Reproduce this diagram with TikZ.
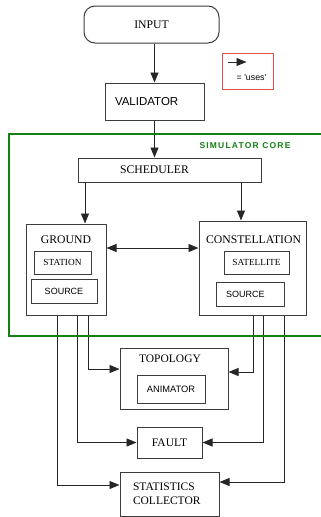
\documentclass[tikz,border=0pt]{standalone}
\usepackage{fontspec}
\setmainfont{Liberation Serif}
\setsansfont{Liberation Sans}
\newfontfamily\corefont[LetterSpace=14]{Liberation Sans}
\usetikzlibrary{arrows.meta}
\definecolor{coregreen}{RGB}{20,128,20}
\definecolor{legendred}{RGB}{228,80,80}
\definecolor{boxgray}{RGB}{60,60,60}

\begin{document}
\begin{tikzpicture}
[x=1pt,y=-1pt,
 box/.style={draw=boxgray,line width=1pt,inner sep=0pt,font=\fontsize{11.7}{14}\selectfont},
 subbox/.style={box,font=\fontsize{9.3}{11}\selectfont},
 sansbox/.style={box,font=\sffamily\fontsize{9}{11}\selectfont},
 title/.style={inner sep=0pt,font=\fontsize{11.7}{14}\selectfont},
 uses/.style={-{Triangle[length=10pt,width=8pt]},line width=0.9pt,draw=black!85},
 both/.style={uses,{Triangle[length=10pt,width=8pt]}-{Triangle[length=10pt,width=8pt]}}]
\useasboundingbox (0,0) rectangle (321,517);

% top of the chain
\node[box,rounded corners=11pt,minimum width=135,minimum height=37] (input) at (151.5,24.5) {INPUT};
\node[box,font=\sffamily\fontsize{11.5}{14}\selectfont,minimum height=37,
      inner xsep=10pt,text width=79pt,align=left] (validator) at (154.5,101.5) {VALIDATOR};
\node[draw=legendred,line width=1pt,minimum width=51,minimum height=36] (legend) at (247.5,71) {};
\node[inner sep=0pt,font=\sffamily\fontsize{8.8}{10}\selectfont] (legendtxt) at (251.5,78) {= \textquotesingle uses\textquotesingle};
\coordinate (keyA) at ([shift={(6pt,9pt)}]legend.west);
\coordinate (keyB) at ([shift={(25pt,9pt)}]legend.west);

% simulator core
\node[text=coregreen,inner sep=0pt,font=\corefont\bfseries\fontsize{8.5}{10}\selectfont] (corelbl) at (245,146) {SIMULATOR CORE};
\node[box,minimum height=24,inner xsep=42pt,text width=99pt,align=left] (scheduler) at (169.5,170) {SCHEDULER};
\node[box,minimum width=80,minimum height=91] (ground) at (66,269.5) {};
\node[title] (groundlbl) at (66,240) {GROUND};
\node[subbox,minimum width=57,minimum height=23] (station) at (62.5,262.5) {STATION};
\node[sansbox,minimum width=66,minimum height=24] (gsource) at (64,291) {SOURCE};
\node[box,minimum width=107,minimum height=94] (constellation) at (252.5,268) {};
\node[title] (constlbl) at (253.5,240) {CONSTELLATION};
\node[subbox,minimum width=65,minimum height=23] (satellite) at (256.5,262.5) {SATELLITE};
\node[sansbox,minimum width=68,minimum height=24,inner xsep=10pt,text width=48pt,align=left] (csource) at (250,294) {SOURCE};

% below the core
\node[box,minimum width=108,minimum height=61] (topology) at (174,378.5) {};
\node[title,font=\fontsize{11.5}{14}\selectfont] (topolbl) at (170,359) {TOPOLOGY};
\node[sansbox,font=\sffamily\fontsize{9.3}{11}\selectfont,minimum width=68,minimum height=28] (animator) at (171,389) {ANIMATOR};
\node[box,font=\fontsize{11.5}{14}\selectfont,minimum width=65,minimum height=31] (fault) at (169.5,442.5) {FAULT};
\node[box,font=\fontsize{11.5}{14}\selectfont,minimum height=44,inner xsep=13pt,text width=73pt,align=left] (stats) at (169.5,494) {STATISTICS\\COLLECTOR};

\coordinate (gin) at ([xshift=19pt]ground.north);
\coordinate (cin) at ([xshift=-11.5pt]constellation.north);
\coordinate (gmid) at ([yshift=21.5pt]ground.east);

\draw[uses] (keyA) -- (keyB);
\draw[uses] (validator.north |- input.south) -- (validator.north);
\draw[uses] (validator.south) -- (validator.south |- scheduler.north);
\draw[uses] (gin |- scheduler.south) -- (gin);
\draw[uses] (cin |- scheduler.south) -- (cin);
\draw[both] (gmid) -- (gmid -| constellation.west);
\foreach \src/\dx/\dst/\dy in {ground/22/topology.west/9.5,ground/11/fault.west/0,ground/-9/stats.west/9,
  constellation/0.5/topology.east/6.5,constellation/10.5/fault.east/0,constellation/31.5/stats.east/12}
\draw[uses] ([xshift=\dx pt]\src.south) |- ([yshift=\dy pt]\dst);

% core frame, open to the right
\begin{scope}
\clip (0,0) rectangle (321,517);
\draw[coregreen,line width=2pt] (330,134) -- (9,134) -- (9,336) -- (330,336);
\end{scope}

\end{tikzpicture}
\end{document}
